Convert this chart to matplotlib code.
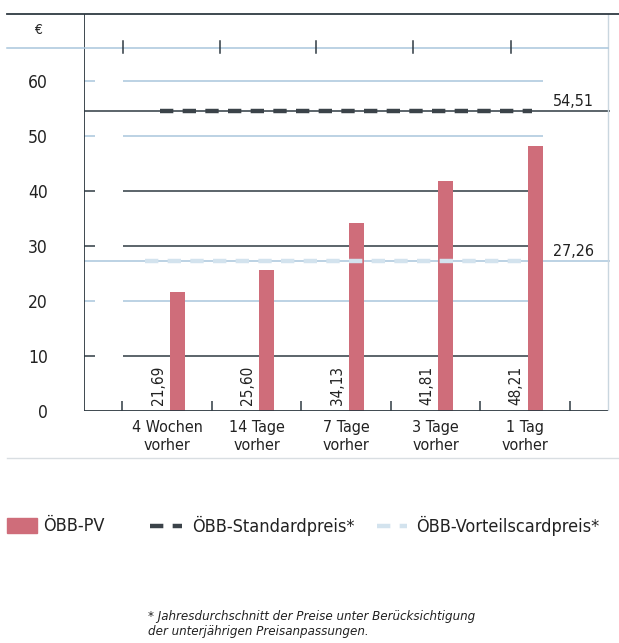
import matplotlib
matplotlib.use('Agg')
import matplotlib.pyplot as plt
from matplotlib.lines import Line2D
from matplotlib.patches import Rectangle

# chart data
categories = ['4 Wochen\nvorher', '14 Tage\nvorher', '7 Tage\nvorher', '3 Tage\nvorher', '1 Tag\nvorher']
pv_prices = [21.69, 25.60, 34.13, 41.81, 48.21]
standard_price = 54.51
vorteils_price = 27.26
y_ticks = [0, 10, 20, 30, 40, 50, 60]

plt.rcParams['font.family'] = ['DejaVu Sans']
plt.rcParams['font.stretch'] = 'condensed'

W, H = 619, 643
DARK = '#2f3a42'
LIGHT = '#a9c6dc'
PALE = '#d3e3ee'
BAR = '#cf6d7a'
TXT = '#222222'


def fx(px):
    return px / W


def fy(py):
    return 1 - py / H


fig = plt.figure(figsize=(W / 100, H / 100), dpi=100)
ax = fig.add_axes([fx(84), fy(411), fx(610) - fx(84), fy(14) - fy(411)])
ax.set_xlim(-0.927, 4.95)
ax.set_ylim(0, 72.18)
for s in ax.spines.values():
    s.set_visible(False)
ax.set_xticks([])
ax.set_yticks(y_ticks)
ax.set_yticklabels([str(v) for v in y_ticks], fontsize=12.5, color=TXT)
ax.tick_params(axis='y', length=0, pad=26)
ax.text(-0.0875, 69.3, '€', transform=ax.get_yaxis_transform(), ha='center', va='center',
        fontsize=10, color=TXT)

ytr = ax.get_yaxis_transform()
# grid lines and their small marks on the axis
for v in y_ticks[1:]:
    c = DARK if v in (10, 30, 40) else LIGHT
    ax.hlines(v, 0.074, 0.873, transform=ytr, color=c, lw=1.1, zorder=1)
    ax.hlines(v, -0.02, 0.021, transform=ytr, color=c, lw=1.1, zorder=1)

# reference prices
ax.hlines(standard_price, 0, 1, transform=ytr, color=DARK, lw=1.1, zorder=1)
ax.hlines(standard_price, 0.144, 0.852, transform=ytr, color='#3b4349', lw=3.2,
          linestyles=(0, (3.0, 2.1)), zorder=4)
ax.hlines(vorteils_price, 0, 1, transform=ytr, color=LIGHT, lw=1.1, zorder=1)
ax.hlines(vorteils_price, 0.116, 0.848, transform=ytr, color=PALE, lw=3.2,
          linestyles=(0, (3.0, 2.1)), zorder=4)
ax.text(4.31, standard_price + 1.8, f'{standard_price:.2f}'.replace('.', ','),
        fontsize=11.5, color=TXT, ha='left', va='center')
ax.text(4.31, vorteils_price + 1.8, f'{vorteils_price:.2f}'.replace('.', ','),
        fontsize=11.5, color=TXT, ha='left', va='center')

# axes lines
ax.axvline(-0.927, color=DARK, lw=1.3, zorder=5)
ax.axhline(0, xmax=0.995, color=DARK, lw=1.3, zorder=5)
ax.axvline(4.93, color='#c9d6df', lw=1.0, zorder=1)
ax.vlines([i - 0.5 for i in range(6)], 0, 1.8, color=DARK, lw=1.1, zorder=5)

# bars
xs = list(range(len(categories)))
ax.bar([x + 0.115 for x in xs], pv_prices, width=0.168, color=BAR, zorder=3)
for x, v, lab in zip(xs, pv_prices, categories):
    ax.text(x - 0.1, 1.1, f'{v:.2f}'.replace('.', ','), rotation=90, ha='center',
            va='bottom', fontsize=11, color=TXT)
    ax.text(x, -1.6, lab, ha='center', va='top', fontsize=11.5, color=TXT,
            linespacing=1.3)

# frame lines outside the axes
fig.add_artist(Line2D([fx(7), fx(619)], [fy(14), fy(14)], color=DARK, lw=1.3))
fig.add_artist(Line2D([fx(7), fx(608)], [fy(48), fy(48)], color=LIGHT, lw=1.1))
for tx in [123, 220, 316, 413, 511]:
    fig.add_artist(Line2D([fx(tx), fx(tx)], [fy(41), fy(53)], color=DARK, lw=1.1))
fig.add_artist(Line2D([fx(7), fx(619)], [fy(458), fy(458)], color='#d9dee2', lw=1.0))

# legend
fig.add_artist(Rectangle((fx(7), fy(533)), fx(37) - fx(7), fy(518) - fy(533),
                         transform=fig.transFigure, color=BAR))
fig.text(fx(43), fy(526), 'ÖBB-PV', fontsize=13, color=TXT, va='center')
fig.add_artist(Line2D([fx(150), fx(182)], [fy(526), fy(526)], color='#3b4349', lw=3.2,
                      dashes=(3.0, 2.1)))
fig.text(fx(192), fy(526), 'ÖBB-Standardpreis*', fontsize=13, color=TXT, va='center')
fig.add_artist(Line2D([fx(377), fx(407)], [fy(526), fy(526)], color=PALE, lw=3.2,
                      dashes=(3.0, 2.1)))
fig.text(fx(416), fy(526), 'ÖBB-Vorteilscardpreis*', fontsize=13, color=TXT, va='center')

# footnote
fig.text(fx(148), fy(624), '* Jahresdurchschnitt der Preise unter Berücksichtigung\n'
         'der unterjährigen Preisanpassungen.', fontsize=9.5, style='italic',
         color=TXT, va='center', linespacing=1.25)

fig.savefig('out.png', dpi=100)
